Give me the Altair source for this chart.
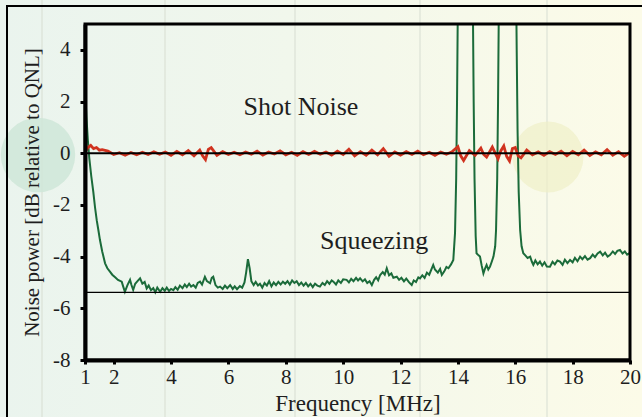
import altair as alt
import pandas as pd

# ---- data ----
sq_freq = [1.00, 1.05, 1.10, 1.15, 1.22, 1.29, 1.35, 1.41, 1.47, 1.52, 1.60, 1.70, 1.78, 1.87, 1.95,
           2.05, 2.15, 2.28, 2.33, 2.39, 2.48, 2.57, 2.62, 2.68, 2.75, 2.83, 2.92, 3.00, 3.08, 3.15,
           3.22, 3.30, 3.38, 3.45, 3.52, 3.62, 3.70, 3.78, 3.85, 3.93, 4.00, 4.08, 4.15, 4.23, 4.31,
           4.40, 4.48, 4.55, 4.63, 4.70, 4.78, 4.86, 4.93, 5.01, 5.08, 5.18, 5.25, 5.36, 5.42, 5.47,
           5.55, 5.63, 5.71, 5.80, 5.88, 5.96, 6.06, 6.15, 6.22, 6.30, 6.40, 6.48, 6.56, 6.62, 6.68,
           6.74, 6.80, 6.88, 6.95, 7.03, 7.10, 7.18, 7.26, 7.34, 7.42, 7.50, 7.58, 7.66, 7.74, 7.82,
           7.90, 7.98, 8.06, 8.14, 8.22, 8.30, 8.38, 8.46, 8.54, 8.62, 8.70, 8.78, 8.86, 8.94, 9.02,
           9.10, 9.19, 9.28, 9.36, 9.44, 9.52, 9.60, 9.66, 9.75, 9.83, 9.92, 10.00, 10.12, 10.20, 10.28,
           10.36, 10.45, 10.52, 10.59, 10.68, 10.76, 10.84, 10.92, 11.00, 11.08, 11.15, 11.22, 11.29, 11.38, 11.45,
           11.52, 11.60, 11.68, 11.75, 11.87, 11.95, 12.03, 12.12, 12.20, 12.30, 12.39, 12.46, 12.54, 12.62, 12.68,
           12.76, 12.84, 12.92, 13.00, 13.08, 13.14, 13.20, 13.30, 13.38, 13.44, 13.52, 13.60, 13.67, 13.76, 13.84,
           13.90, 13.94, 13.97, 14.00, 14.05, 14.25, 14.45, 14.52, 14.55, 14.58, 14.62, 14.65, 14.72, 14.77, 14.83,
           14.89, 14.95, 15.00, 15.06, 15.12, 15.18, 15.24, 15.30, 15.33, 15.37, 15.40, 15.43, 15.50, 15.75, 16.00,
           16.05, 16.08, 16.12, 16.17, 16.22, 16.28, 16.35, 16.43, 16.52, 16.58, 16.63, 16.70, 16.78, 16.86, 16.94,
           17.02, 17.10, 17.21, 17.30, 17.38, 17.47, 17.56, 17.65, 17.73, 17.82, 17.91, 18.00, 18.08, 18.17, 18.26,
           18.34, 18.43, 18.52, 18.61, 18.70, 18.78, 18.87, 18.96, 19.05, 19.13, 19.22, 19.30, 19.40, 19.48, 19.56,
           19.65, 19.74, 19.82, 19.90, 20.00]
sq_db = [2.6, 1.4, 0.5, -0.2, -0.9, -1.5, -2.1, -2.6, -3.0, -3.35, -3.8, -4.26, -4.45, -4.58, -4.70,
         -4.80, -4.90, -4.97, -5.15, -5.36, -5.10, -4.90, -5.10, -5.29, -5.05, -4.95, -4.84, -5.05, -4.98, -5.23,
         -5.12, -5.30, -5.22, -5.38, -5.20, -5.36, -5.22, -5.32, -5.20, -5.33, -5.25, -5.30, -5.18, -5.28, -5.12,
         -5.22, -5.08, -5.18, -5.05, -5.16, -5.10, -5.20, -5.02, -4.97, -5.08, -4.78, -4.95, -5.03, -4.82, -4.78,
         -5.10, -5.20, -5.16, -5.25, -5.12, -5.22, -5.10, -5.25, -5.15, -5.26, -5.14, -5.20, -5.00, -4.60, -4.10,
         -4.45, -4.95, -5.10, -4.98, -5.12, -5.05, -5.20, -5.02, -5.12, -4.95, -5.15, -5.00, -5.10, -4.98, -5.08,
         -4.97, -5.05, -4.95, -5.08, -4.92, -5.02, -4.95, -5.10, -5.00, -5.12, -5.02, -5.15, -5.05, -5.18, -5.05,
         -5.12, -5.16, -5.02, -5.10, -4.95, -5.05, -4.92, -4.97, -5.08, -4.92, -5.02, -4.88, -4.90, -5.00, -4.86,
         -4.95, -4.82, -4.92, -4.84, -4.96, -4.88, -5.02, -4.95, -5.10, -4.90, -4.80, -4.92, -4.71, -4.60, -4.70,
         -4.45, -4.72, -4.65, -4.82, -4.78, -4.90, -4.82, -4.96, -4.85, -5.00, -5.10, -4.92, -4.98, -4.80, -4.84,
         -4.72, -4.82, -4.62, -4.70, -4.48, -4.32, -4.50, -4.62, -4.48, -4.71, -4.58, -4.40, -4.45, -4.30, -4.13,
         -3.08, -1.0, 2.0, 6.0, 10.0, 14.0, 10.0, 6.0, 2.0, -1.0, -3.2, -3.87, -3.95, -4.0, -4.35,
         -4.65, -4.45, -4.32, -4.50, -4.39, -4.20, -4.0, -3.6, -2.97, -1.0, 2.0, 6.0, 10.0, 14.0, 10.0,
         4.0, 0.9, -1.5, -2.97, -3.6, -3.87, -3.95, -4.05, -4.0, -4.20, -4.32, -4.15, -4.30, -4.19, -4.35,
         -4.22, -4.38, -4.39, -4.20, -4.30, -4.15, -4.19, -4.32, -4.12, -4.25, -4.13, -4.22, -4.05, -4.18, -4.0,
         -4.10, -3.98, -4.12, -4.06, -3.92, -4.02, -3.88, -3.81, -3.95, -3.85, -4.0, -3.94, -3.80, -3.90, -3.78,
         -3.74, -3.88, -3.80, -3.92, -3.85]

sn_freq = [1.0, 1.1, 1.2, 1.3, 1.4, 1.5, 1.6, 1.8, 2.0, 2.2, 2.4, 2.6, 2.8, 3.0, 3.2, 3.4, 3.6, 3.8, 4.0,
           4.2, 4.4, 4.6, 4.8, 5.0, 5.1, 5.2, 5.3, 5.4, 5.6, 5.8, 6.0, 6.2, 6.4, 6.6, 6.8, 7.0, 7.2,
           7.4, 7.6, 7.8, 8.0, 8.2, 8.4, 8.6, 8.8, 9.0, 9.2, 9.4, 9.6, 9.8, 10.0, 10.2, 10.4,
           10.6, 10.8, 11.0, 11.2, 11.4, 11.6, 11.8, 12.0, 12.2, 12.4, 12.6, 12.8, 13.0, 13.2, 13.4, 13.6,
           13.8, 14.0, 14.1, 14.2, 14.4, 14.6, 14.8, 14.9, 15.0, 15.2, 15.4, 15.5, 15.6, 15.7, 15.8, 15.9,
           16.0, 16.1, 16.2, 16.4, 16.6, 16.8,
           17.0, 17.2, 17.4, 17.6, 17.8, 18.0, 18.2, 18.4, 18.6, 18.8, 19.0, 19.2, 19.4, 19.6, 19.8, 20.0]
sn_db = [0.05, 0.22, 0.30, 0.18, 0.22, 0.12, 0.14, 0.08, -0.05, 0.02, -0.08, 0.03, -0.06, 0.04, -0.05,
         0.06, -0.04, 0.05, -0.08,
         0.07, -0.06, 0.10, -0.10, 0.12, -0.10, -0.25, 0.15, 0.22, -0.08, 0.06, -0.05, 0.04, -0.06, 0.05,
         -0.04, 0.08, -0.07,
         0.05, -0.03, 0.09, -0.06, 0.04, -0.08, 0.06, -0.05, 0.07, -0.04, 0.05, -0.07, 0.08, -0.05, 0.15, -0.10,
         0.06, -0.08, 0.12, -0.06, 0.18, -0.12, 0.05, -0.07, 0.06, -0.05, 0.08, -0.06, 0.04, -0.08, 0.05, -0.04,
         0.06, 0.25, -0.10, -0.28, 0.10, -0.08, 0.20, -0.05, -0.15, 0.24, -0.22, 0.10, 0.28, -0.12, -0.30, 0.18,
         0.22, -0.10, -0.18, 0.12, -0.06, 0.05,
         -0.08, 0.06, -0.05, 0.08, -0.10, 0.07, -0.06, 0.12, -0.09, 0.05, -0.06, 0.14, -0.08, 0.06, -0.12, 0.04]

qnl_level = [0.0]
squeeze_ref_level = [-5.38]

x_ticks = [1, 2, 4, 6, 8, 10, 12, 14, 16, 18, 20]
y_ticks = [-8, -6, -4, -2, 0, 2, 4]

labels = ["Shot Noise", "Squeezing"]
label_f = [8.53, 11.08]
label_db = [1.79, -3.39]

# ---- layout ----
W, H = 545, 336
PAD = {"left": 85, "top": 24, "right": 12, "bottom": 57}
FONT = "Liberation Serif"
TXT = "#1e1e1e"

sq_df = pd.DataFrame({"f": sq_freq, "db": sq_db})
sn_df = pd.DataFrame({"f": sn_freq, "db": sn_db})
lab_df = pd.DataFrame({"f": label_f, "db": label_db, "t": labels})

xscale = alt.Scale(domain=[1, 20], nice=False, zero=False)
yscale = alt.Scale(domain=[-8, 5], nice=False, zero=False)

xenc = alt.X("f:Q", scale=xscale, axis=alt.Axis(
    values=x_ticks, title="Frequency [MHz]", grid=False, labelFont=FONT, labelFontSize=21,
    labelColor=TXT, titleFont=FONT, titleFontSize=23, titleFontWeight="normal",
    titleColor=TXT, domainColor="black", domainWidth=4, tickColor="black",
    tickWidth=3, tickSize=4, labelPadding=2, titlePadding=5, labelFlush=False, zindex=1,
    labelExpr="'' + datum.value"))
yenc = alt.Y("db:Q", scale=yscale, axis=alt.Axis(
    values=y_ticks, title="Noise power [dB relative to QNL]", grid=False, labelFont=FONT,
    labelFontSize=21, labelColor=TXT, titleFont=FONT, titleFontSize=21,
    titleFontWeight="normal", titleColor=TXT, domainColor="black", domainWidth=4,
    tickColor="black", tickWidth=3, tickSize=5, labelPadding=10, titlePadding=10,
    labelFlush=False, zindex=1, labelExpr="'' + datum.value"))

grad = alt.Gradient(gradient="linear", x1=0, x2=1, y1=0, y2=0, stops=[
    alt.GradientStop(color="#eaf4ee", offset=0),
    alt.GradientStop(color="#f1f7ec", offset=0.45),
    alt.GradientStop(color="#fcfbe8", offset=1)])

one = pd.DataFrame({"k": [0]})

bg = alt.Chart(one).mark_rect(fill=grad, strokeWidth=0).encode(
    x=alt.value(-PAD["left"]), x2=alt.value(W + PAD["right"]),
    y=alt.value(-PAD["top"]), y2=alt.value(H + PAD["bottom"]))

# faint slide-background decoration
stripe_px = [-43, 80, 210, 335, 462]
stripes = alt.Chart(pd.DataFrame({"px": stripe_px})).mark_rule(
    color="#d9dfd3", strokeWidth=1.5, opacity=0.7).encode(
    x=alt.X("px:Q", scale=None), y=alt.value(-PAD["top"]), y2=alt.value(H + PAD["bottom"]))

blob_green = alt.Chart(one).mark_circle(color="#cfe6d8", opacity=0.85, size=5540).encode(
    x=alt.value(-47), y=alt.value(131))
blob_yellow = alt.Chart(one).mark_circle(color="#eff0c8", opacity=0.7, size=5030).encode(
    x=alt.value(463), y=alt.value(133))

outer_frame = alt.Chart(one).mark_rect(
    fill="transparent", stroke="black", strokeWidth=2).encode(
    x=alt.value(-78), x2=alt.value(W + 40), y=alt.value(-18), y2=alt.value(H + 80))

plot_frame = alt.Chart(one).mark_rect(
    fill="transparent", stroke="black", strokeWidth=3).encode(
    x=alt.value(0), x2=alt.value(W), y=alt.value(0), y2=alt.value(H))

ref_line = alt.Chart(pd.DataFrame({"db": squeeze_ref_level})).mark_rule(
    color="black", strokeWidth=1.3).encode(y=alt.Y("db:Q", scale=yscale))

sq_line = alt.Chart(sq_df).mark_line(color="#1b6b3a", strokeWidth=2, clip=True).encode(
    x=xenc, y=yenc)

sn_line = alt.Chart(sn_df).mark_line(color="#d0321e", strokeWidth=2.8, clip=True).encode(
    x=alt.X("f:Q", scale=xscale), y=alt.Y("db:Q", scale=yscale))

zero_line = alt.Chart(pd.DataFrame({"db": qnl_level})).mark_rule(
    color="black", strokeWidth=2.2).encode(y=alt.Y("db:Q", scale=yscale))

text = alt.Chart(lab_df).mark_text(font=FONT, fontSize=26, color=TXT,
                                   baseline="middle", align="center").encode(
    x=alt.X("f:Q", scale=xscale), y=alt.Y("db:Q", scale=yscale), text="t:N")

chart = alt.layer(bg, stripes, blob_green, blob_yellow, outer_frame, sq_line, ref_line,
                  sn_line, zero_line, text, plot_frame).properties(
    width=W, height=H, padding=PAD,
    autosize=alt.AutoSizeParams(type="none"),
    background="#f1f6ec"
).configure_view(stroke=None)

chart.save("out.html", embed_options={"renderer": "svg", "actions": False})
